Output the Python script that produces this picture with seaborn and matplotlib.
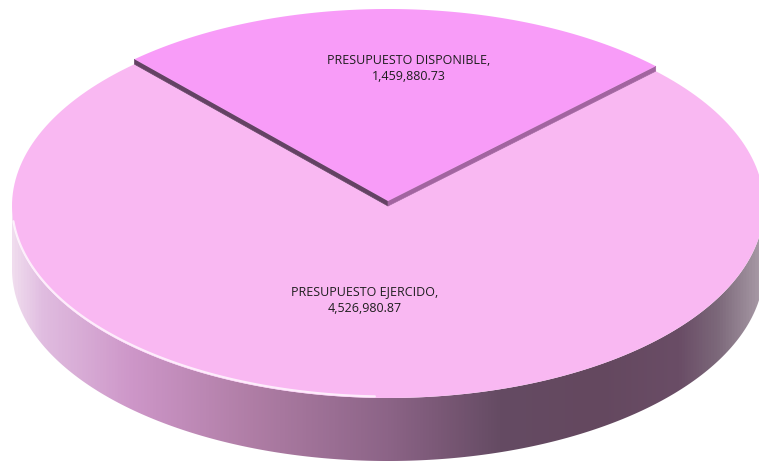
import matplotlib
matplotlib.use("Agg")
import matplotlib.pyplot as plt
import numpy as np
import seaborn as sns
from matplotlib.colors import LinearSegmentedColormap
from matplotlib.patches import Polygon

categories = ["PRESUPUESTO EJERCIDO", "PRESUPUESTO DISPONIBLE"]
values = [4526980.87, 1459880.73]
top_colors = ["#f9b8f2", "#f89cf8"]
wall_colors = ["#644264", "#a264a0"]  # radial walls of the raised slice

sns.set_theme(style="white")
plt.rcParams["font.family"] = ["Open Sans", "DejaVu Sans"]

# layout in pixels (y grows downward)
W, H = 759, 468
CX, CY, RX, RY, DEPTH, LIFT = 388, 206, 376, 192, 63, 5
MID_SMALL = 88.5  # angle the small slice is centred on

side_cmap = LinearSegmentedColormap.from_list(
    "side",
    [(0.0, "#f0dcee"), (0.04, "#e0bce0"), (0.16, "#cd96c8"), (0.32, "#af7da5"),
     (0.50, "#8c6487"), (0.65, "#654b63"), (0.78, "#64485f"), (0.89, "#6a4d66"),
     (0.94, "#7c687a"), (1.0, "#aa9ca8")],
)


def ell(theta, dy=0.0):
    t = np.radians(theta)
    return CX + RX * np.cos(t), CY - RY * np.sin(t) + dy


def sector(a0, a1, dy=0.0, n=200):
    th = np.linspace(a0, a1, n)
    xs, ys = ell(th, dy)
    return np.column_stack([np.r_[CX, xs], np.r_[CY + dy, ys]])


fig = plt.figure(figsize=(W / 100, H / 100), dpi=100)
ax = fig.add_axes([0, 0, 1, 1])
ax.set_xlim(0, W)
ax.set_ylim(H, 0)
ax.axis("off")

# front side wall with horizontal shading
th = np.linspace(180, 360, 300)
tx, ty = ell(th)
wall = np.column_stack([np.r_[tx, tx[::-1]], np.r_[ty, ty[::-1] + DEPTH]])
wall_patch = Polygon(wall, closed=True, facecolor="none", edgecolor="none")
ax.add_patch(wall_patch)
grad = np.linspace(0, 1, 512)[None, :]
img = ax.imshow(grad, cmap=side_cmap, aspect="auto",
                extent=(CX - RX, CX + RX, CY + RY + DEPTH, CY), zorder=1)
img.set_clip_path(wall_patch)

# slice angles from the values
total = sum(values)
span_small = 360 * values[1] / total
a_left = MID_SMALL + span_small / 2
a_right = MID_SMALL - span_small / 2

# big slice top
big = sector(a_left, a_right + 360)
ax.add_patch(Polygon(big, closed=True, facecolor=top_colors[0], edgecolor="none", zorder=2))

# soft highlight along the front-left rim
hx, hy = ell(np.linspace(185, 268, 120), dy=-1.5)
ax.plot(hx, hy, color="white", lw=1.6, alpha=0.75, zorder=3)

# radial walls under the raised small slice
for ang, col in [(a_left, wall_colors[0]), (a_right, wall_colors[1])]:
    ex, ey = ell(ang)
    quad = [(CX, CY - LIFT), (ex, ey - LIFT), (ex, ey), (CX, CY)]
    ax.add_patch(Polygon(quad, closed=True, facecolor=col, edgecolor=col, lw=0.5, zorder=4))

small = sector(a_right, a_left, dy=-LIFT)
ax.add_patch(Polygon(small, closed=True, facecolor=top_colors[1], edgecolor="none", zorder=5))

# data labels
label_pos = [(365, 300), (409, 68)]
for name, val, (lx, ly) in zip(categories, values, label_pos):
    ax.text(lx, ly, f"{name},\n{val:,.2f}", ha="center", va="center",
            fontsize=9, color="#1e1e1e", linespacing=1.3, zorder=6)

fig.savefig("out.png", dpi=100)
